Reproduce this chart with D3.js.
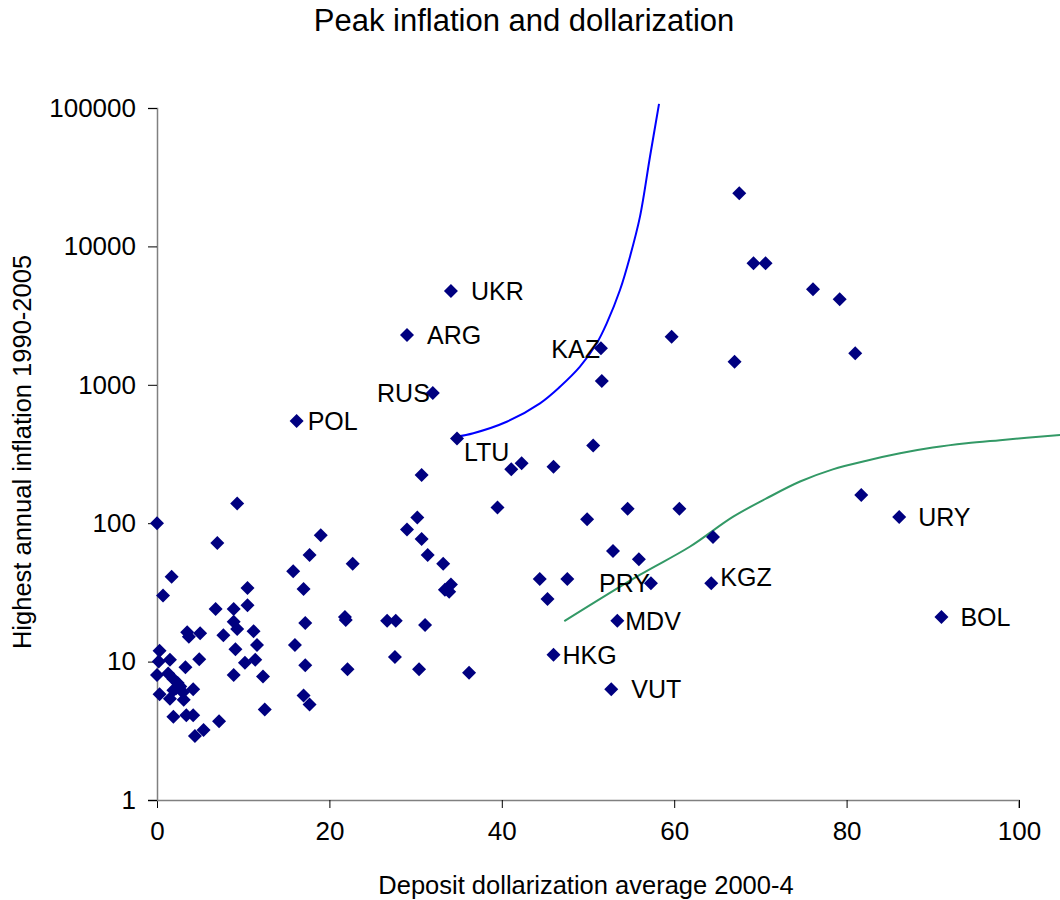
<!DOCTYPE html>
<html>
<head>
<meta http-equiv="Content-Type" content="text/html;charset=utf-8"/>
<script src="https://d3js.org/d3.v7.min.js"></script>
<style type="text/css">
body { margin: 0; background: #fff; }
svg text { font-family: "Liberation Sans", Arial, sans-serif; fill: #000; }
.domain { stroke: #808080; }
.tick line { stroke: #000; }
</style>
</head>
<body>
<script>
// Chart size and plot box
var width = 1060,
    height = 900,
    plotLeft = 157, plotRight = 1019,
    plotTop = 108, plotBottom = 800;

// Scatter: deposit dollarization (x) vs peak inflation (y)
var dollarization = [
  0.0, 9.3, 7.0, 19.0, 17.7, 22.7, 15.8, 1.7, 10.5, 17.0,
  0.7, 6.8, 8.9, 10.5, 8.9, 9.3, 11.2, 17.2, 21.8, 21.9,
  3.5, 3.7, 5.0, 7.7, 11.6, 16.0, 9.1, 0.3, 0.2, 1.5,
  4.9, 10.2, 11.4, 17.2, 22.1, 3.3, 0.0, 8.9, 12.3, 1.3,
  1.9, 2.4, 2.7, 1.9, 4.2, 0.3, 1.5, 3.1, 2.2, 3.0,
  17.0, 17.7, 1.9, 3.4, 4.2, 7.2, 12.5, 5.4, 4.4, 30.7,
  30.2, 29.0, 30.7, 31.4, 33.2, 33.4, 34.1, 33.9, 26.7, 27.7,
  31.1, 27.6, 30.4, 36.2, 16.2, 29.0, 32.0, 34.1, 34.8, 51.5,
  59.7, 67.0, 51.6, 50.6, 41.1, 42.3, 46.0, 39.5, 54.6, 60.6,
  49.9, 64.5, 52.9, 55.9, 44.4, 47.6, 45.3, 57.3, 64.3, 53.4,
  46.0, 52.7, 67.55, 69.2, 70.6, 76.1, 79.2, 81.0, 86.1, 81.7,
  91.0
];
var inflation = [
  100, 139, 72, 82, 59, 51, 45, 41, 34, 33.5,
  30, 24, 24, 25.5, 19.4, 17.2, 16.6, 19, 21, 20,
  16.3, 15.1, 16, 15.5, 13.2, 13.2, 12.3, 12, 10, 10.3,
  10.4, 9.8, 10.3, 9.4, 8.8, 9.1, 8.0, 8.0, 7.8, 8.2,
  7.5, 7.0, 6.6, 6.2, 6.3, 5.8, 5.4, 5.3, 6.4, 6.0,
  5.7, 4.9, 4.0, 4.1, 4.1, 3.7, 4.5, 3.2, 2.9, 223,
  110, 90, 77, 59, 51, 33, 36, 32, 19.7, 19.7,
  18.4, 10.8, 8.8, 8.3, 547, 2290, 873, 4760, 410, 1834,
  2228, 1469, 1065, 365, 245, 271, 256, 130, 127, 127,
  107, 79.5, 63, 55, 39.5, 39.5, 28.3, 36.8, 36.8, 19.7,
  11.2, 6.3, 24200, 7550, 7550, 4900, 4150, 1690, 111, 160,
  21
];

// Country labels: index of the point each one names
var labelCodes = ["UKR", "ARG", "RUS", "POL", "LTU", "KAZ", "PRY", "KGZ", "URY", "BOL", "MDV", "HKG", "VUT"];
var labelIndex = [77, 75, 76, 74, 78, 79, 97, 98, 108, 110, 99, 100, 101];

// Blue curve
var blueX = [34.77, 36.7, 40.57, 44.43, 46.75, 49.07, 51.01, 52.17, 53.71, 54.87, 56.03, 57.19, 58.24];
var blueY = [422, 447, 541, 735, 968, 1352, 1995, 2780, 4842, 8433, 16400, 44460, 107000];

// Green curve
var greenX = [47.25, 56.0, 61.8, 66.8, 70.7, 74.6, 78.4, 82.3, 86.2, 90.0, 93.9, 97.8, 104.8];
var greenY = [19.6, 42.3, 67.6, 111, 151, 200, 245, 283, 320, 352, 378, 398, 434];

var xTicks = [0, 20, 40, 60, 80, 100];
var yTicks = [1, 10, 100, 1000, 10000, 100000];

var x = d3.scaleLinear().domain([0, 100]).range([plotLeft, plotRight]);
var y = d3.scaleLog().domain([1, 100000]).range([plotBottom, plotTop]);

var svg = d3.select("body")
            .append("svg")
            .attr("width", width)
            .attr("height", height);

// Title
svg.append("text")
   .attr("x", 524)
   .attr("y", 31)
   .attr("text-anchor", "middle")
   .style("font-size", "31px")
   .text("Peak inflation and dollarization");

// Axes
var xAxis = svg.append("g")
   .attr("transform", "translate(0," + plotBottom + ")")
   .call(d3.axisBottom(x).tickValues(xTicks).tickSize(8).tickPadding(14).tickFormat(d3.format("d")));

var yAxis = svg.append("g")
   .attr("transform", "translate(" + plotLeft + ",0)")
   .call(d3.axisLeft(y).tickValues(yTicks).tickSize(9).tickPadding(12).tickFormat(d3.format("d")));

svg.selectAll(".tick text").style("font-size", "26px");
svg.selectAll(".domain").attr("stroke-width", 1.5);
xAxis.select(".domain").attr("d", "M" + (plotLeft - 9) + ",0.5H" + plotRight + "V8");

// Axis titles
svg.append("text")
   .attr("x", 586)
   .attr("y", 894)
   .attr("text-anchor", "middle")
   .style("font-size", "25.5px")
   .text("Deposit dollarization average 2000-4");

svg.append("text")
   .attr("transform", "translate(31,452) rotate(-90)")
   .attr("text-anchor", "middle")
   .style("font-size", "25.5px")
   .text("Highest annual inflation 1990-2005");

// Curves
var line = d3.line()
             .x(function(d) { return x(d[0]); })
             .y(function(d) { return y(d[1]); })
             .curve(d3.curveCatmullRom.alpha(0.5));

svg.append("path")
   .datum(d3.zip(greenX, greenY))
   .attr("fill", "none")
   .attr("stroke", "#339966")
   .attr("stroke-width", 2)
   .attr("d", line);

svg.append("path")
   .datum(d3.zip(blueX, blueY))
   .attr("fill", "none")
   .attr("stroke", "#0000ff")
   .attr("stroke-width", 2)
   .attr("d", line);

// Markers
svg.append("g")
   .selectAll("path")
   .data(d3.zip(dollarization, inflation))
   .enter()
   .append("path")
   .attr("transform", function(d) { return "translate(" + x(d[0]) + "," + y(d[1]) + ")"; })
   .attr("d", "M0,-7L7,0L0,7L-7,0Z")
   .attr("fill", "#000080");

// Label placement relative to its point: [dx, dy, anchor]
var labelPlace = {
  UKR: [20, 9, "start"], ARG: [20, 9, "start"], RUS: [-3, 9, "end"],
  POL: [11, 9, "start"], LTU: [7, 23, "start"], KAZ: [-1, 10, "end"],
  PRY: [-1, 9, "end"], KGZ: [9, 3, "start"], URY: [19, 9, "start"],
  BOL: [19, 9, "start"], MDV: [8, 9, "start"], HKG: [9, 9, "start"],
  VUT: [20, 9, "start"]
};

svg.append("g")
   .selectAll("text")
   .data(labelCodes)
   .enter()
   .append("text")
   .attr("x", function(d, i) { return x(dollarization[labelIndex[i]]) + labelPlace[d][0]; })
   .attr("y", function(d, i) { return y(inflation[labelIndex[i]]) + labelPlace[d][1]; })
   .attr("text-anchor", function(d) { return labelPlace[d][2]; })
   .style("font-size", "25px")
   .text(function(d) { return d; });
</script>
</body>
</html>
